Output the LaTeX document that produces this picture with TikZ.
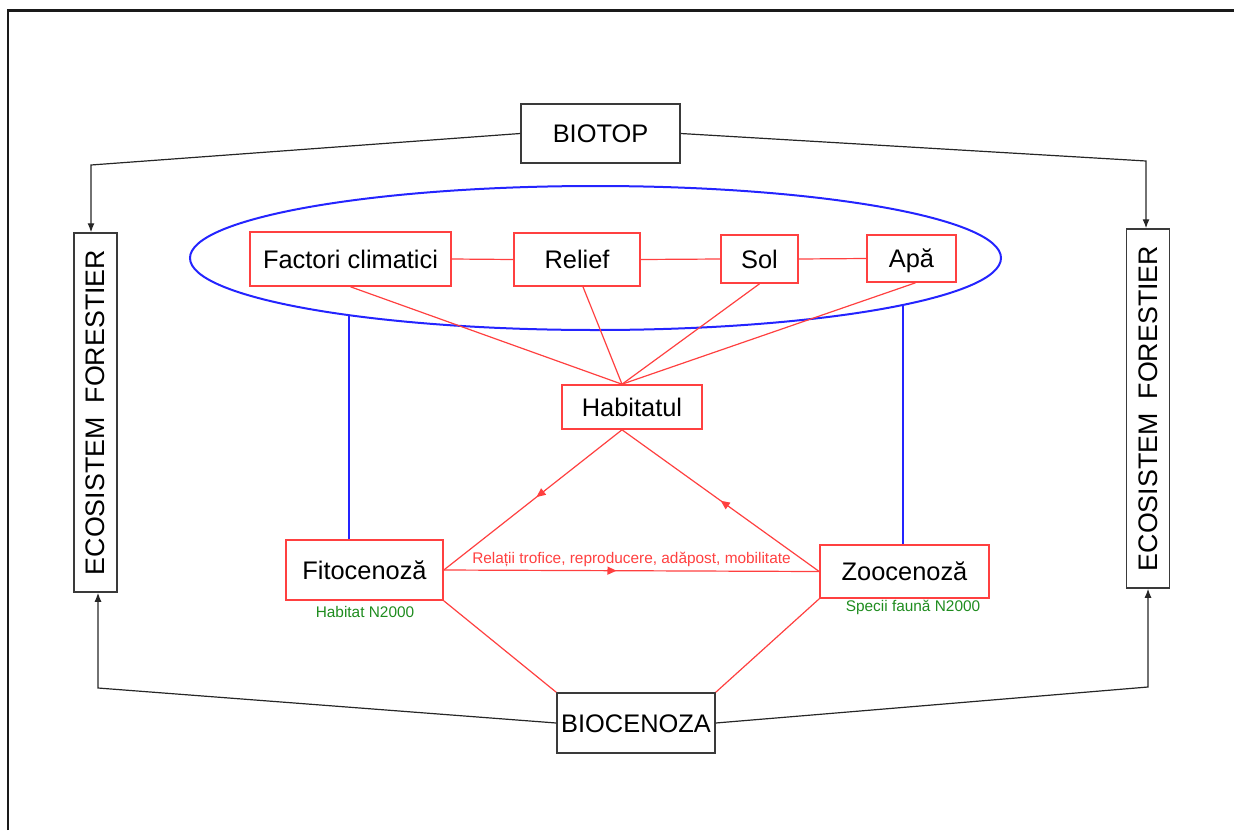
\documentclass[tikz,border=0pt]{standalone}
\usepackage{fontspec}
\setmainfont{Liberation Sans}
\usetikzlibrary{positioning,arrows.meta,calc,decorations.markings}
\definecolor{frame}{HTML}{1A1A1A}
\definecolor{boxline}{HTML}{3A3A3A}
\definecolor{redline}{HTML}{FF4040}
\definecolor{blueline}{HTML}{2424FF}
\definecolor{natura}{HTML}{1E8C1E}

\begin{document}
\begin{tikzpicture}[x=.5pt,y=-.5pt,
  blackbox/.style={draw=boxline,line width=.75pt,fill=white,inner sep=0pt,text height=9.3pt,text depth=.3pt,font=\fontsize{12.7}{15}\selectfont},
  redbox/.style={draw=redline,line width=.8pt,fill=white,inner sep=0pt,text height=9.3pt,text depth=.3pt,font=\fontsize{12.7}{15}\selectfont},
  conn/.style={draw=black!85,line width=.6pt},
  redconn/.style={color=redline,line width=.6pt},
  midarrow/.style={postaction={decorate},decoration={markings,mark=at position #1 with {\arrow{Triangle[length=4.5pt,width=4pt]}}}},
  n2000/.style={text=natura,inner sep=0pt,font=\fontsize{7.7}{9}\selectfont}]
\useasboundingbox (0,0) rectangle (1234,830);
\draw[frame,line width=1.2pt] (8,830) -- (8,10.5) -- (1234,10.5);

% biotop side
\node[blackbox,minimum width=79.5pt,minimum height=29.5pt] (biotop) at (600.5,133.5){BIOTOP};
\node[blackbox,rotate=90,minimum width=179.5pt,minimum height=21.5pt,font=\fontsize{13.4}{15}\selectfont] (ecoL) at (95.5,412.5){ECOSISTEM\hspace{7pt}FORESTIER};
\node[blackbox,rotate=90,minimum width=179.5pt,minimum height=21.5pt,font=\fontsize{13.4}{15}\selectfont] (ecoR) at (1148,408.5){ECOSISTEM\hspace{7pt}FORESTIER};

\draw[blueline,line width=1pt] (595.5,258) ellipse [x radius=405.5,y radius=72];
\node[redbox,minimum width=100.5pt,minimum height=27pt] (fact) at (350.5,259){Factori climatici};
\node[redbox,minimum width=63pt,minimum height=26.5pt] (rel) at (577,259.5){Relief};
\node[redbox,minimum width=38.5pt,minimum height=24pt] (sol) at (759.5,259){Sol};
\node[redbox,minimum width=44.5pt,minimum height=23.5pt] (apa) at (911.5,258.5){Apă};

\node[redbox,minimum width=70pt,minimum height=22pt] (hab) at (632,407){Habitatul};
\node[redbox,minimum width=78.5pt,minimum height=30pt] (fito) at (364.5,570){Fitocenoză};
\node[redbox,minimum width=84.5pt,minimum height=26.5pt] (zoo) at (904.5,571.5){Zoocenoză};
\node[n2000] (fitolbl) at (365,612){Habitat N2000};
\node[n2000] (zoolbl) at (913,607){Specii faună N2000};

\node[blackbox,minimum width=79pt,minimum height=30pt] (bioc) at (636,723){BIOCENOZA};

% black connectors
\coordinate (cL) at (91,165);
\coordinate (cR) at (1146,161);
\coordinate (dL) at (98,688);
\coordinate (dR) at (1148,687);
\draw[conn,-{Latex[length=4.5pt,width=3.5pt]}] (biotop.west) -- (cL) -- (cL |- ecoL.east);
\draw[conn,-{Latex[length=4.5pt,width=3.5pt]}] (biotop.east) -- (cR) -- (cR |- ecoR.east);
\draw[conn,-{Latex[length=4.5pt,width=3.5pt]}] (bioc.west) -- (dL) -- (dL |- ecoL.west);
\draw[conn,-{Latex[length=4.5pt,width=3.5pt]}] (bioc.east) -- (dR) -- (dR |- ecoR.west);

% abiotic factors
\draw[redconn] (fact.east)--(rel.west);\draw[redconn] (rel.east)--(sol.west);\draw[redconn] (sol.east)--(apa.west);
\coordinate (habN) at ($(hab.north)+(-10,0)$);
\coordinate (habS) at ($(hab.south)+(-10,0)$);
\draw[redconn] (fact.south)--(habN);\draw[redconn] ($(rel.south)+(6,0)$)--(habN);
\draw[redconn] (sol.south)--(habN);\draw[redconn] ($(apa.south)+(4,0)$)--(habN);

% blue links to ellipse
\coordinate (b1) at (349,315);
\coordinate (b2) at (903,305);
\draw[blueline,line width=.6pt] (b1) -- (b1 |- fito.north);
\draw[blueline,line width=.6pt] (b2) -- (b2 |- zoo.north);

% biocenosis
\draw[redconn,midarrow=.48] (habS) -- (fito.east);
\draw[redconn,midarrow=.5] (zoo.west) -- (habS);
\draw[redconn,midarrow=.46] (fito.east) -- node[above=.5pt,inner sep=1pt,font=\fontsize{7.7}{9}\selectfont] (rel lbl) {Relații trofice, reproducere, adăpost, mobilitate} (zoo.west);
\draw[redconn] (fito.south east) -- (bioc.north west);
\draw[redconn] (zoo.south west) -- (bioc.north east);
\end{tikzpicture}
\end{document}
